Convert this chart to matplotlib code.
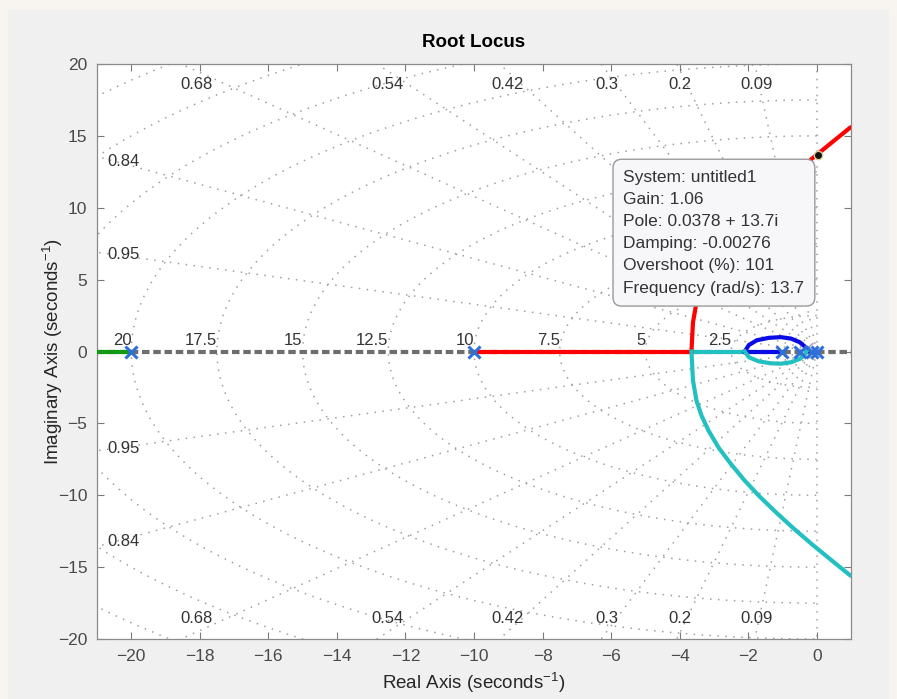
import numpy as np
import matplotlib
matplotlib.use('Agg')
import matplotlib.pyplot as plt
from matplotlib.patches import Rectangle

plt.rcParams['font.family'] = ['Liberation Sans', 'DejaVu Sans']
plt.rcParams['mathtext.default'] = 'regular'

# open-loop poles (x markers)
pole_re = [-20.0, -10.0, -1.0, -0.5, -0.15, 0.0]

# real-axis pieces of the locus
green_re = [-21.0, -20.0]
red_re = [-10.0, -3.65]
cyan_re = [-3.65, -2.1]
blue_re = [-2.1, -1.0]
blue_re2 = [-0.15, 0.0]

# complex branch leaving the real axis at -3.65 (lower half)
branch_re = [-3.655, -3.611, -3.509, -3.363, -3.158, -2.865, -2.515, -2.105,
             -1.667, -1.184, -0.673, -0.132, 0.439, 0.980, 1.10]
branch_im = [0.0, -2.017, -3.409, -4.452, -5.496, -6.678, -7.791, -8.974,
             -10.087, -11.200, -12.313, -13.426, -14.539, -15.583, -15.68]

# small loop near the origin
loop_up_re = [-2.1, -1.98, -1.75, -1.4, -1.05, -0.75, -0.5, -0.35, -0.28]
loop_up_im = [0.0, 0.45, 0.78, 0.95, 1.0, 0.9, 0.65, 0.35, 0.0]
loop_dn_re = [-2.1, -1.98, -1.7, -1.35, -1.05, -0.75, -0.5, -0.36, -0.3]
loop_dn_im = [0.0, -0.4, -0.68, -0.82, -0.85, -0.75, -0.52, -0.25, 0.0]

# data tip
tip_pole = (0.0378, 13.7)
tip_lines = ['System: untitled1', 'Gain: 1.06', 'Pole: 0.0378 + 13.7i',
             'Damping: -0.00276', 'Overshoot (%): 101', 'Frequency (rad/s): 13.7']

# sgrid
zetas = [0.09, 0.2, 0.3, 0.42, 0.54, 0.68, 0.84, 0.95]
top_zetas = [0.09, 0.2, 0.3, 0.42, 0.54, 0.68]
side_zetas = [0.84, 0.95]
wns = [2.5, 5, 7.5, 10, 12.5, 15, 17.5, 20, 22.5, 25, 27.5]
wn_labels = ['2.5', '5', '7.5', '10', '12.5', '15', '17.5', '20']

xlim = (-21, 1)
ylim = (-20, 20)

fig = plt.figure(figsize=(8.97, 6.99), dpi=100, facecolor='#f8f5f1')
fig.add_artist(Rectangle((8 / 897, 0), 881 / 897, 689 / 699, transform=fig.transFigure,
                         facecolor='#f0f0f0', edgecolor='none', zorder=0))
ax = fig.add_axes([97 / 897, 60 / 699, 754 / 897, 575 / 699])
ax.set_facecolor('white')

gkw = dict(color='#a0a0a0', lw=1.1, dashes=(1, 4.2), zorder=1)
for z in zetas:
    s = np.sqrt(1 - z ** 2)
    ax.plot([0, -30 * z], [0, 30 * s], **gkw)
    ax.plot([0, -30 * z], [0, -30 * s], **gkw)
ax.plot([0, 0], [-30, 30], **gkw)
th = np.linspace(np.pi / 2, 3 * np.pi / 2, 300)
for w in wns:
    ax.plot(w * np.cos(th), w * np.sin(th), **gkw)

lab = dict(fontsize=12, color='#333333')
for z in top_zetas:
    s = np.sqrt(1 - z ** 2)
    xx = -19.5 * z / s
    ax.text(xx, 18.6, f'{z:g}', ha='center', va='center', **lab)
    ax.text(xx, -18.6, f'{z:g}', ha='center', va='center', **lab)
for z in side_zetas:
    s = np.sqrt(1 - z ** 2)
    yy = 20.5 * s / z
    ax.text(-20.7, yy, f'{z:g}', ha='left', va='center', **lab)
    ax.text(-20.7, -yy, f'{z:g}', ha='left', va='center', **lab)
for w, t in zip(wns, wn_labels):
    ax.text(-w, 0.25, t, ha='right', va='bottom', **lab)

# locus
ax.plot(list(xlim), [0, 0], color='#6e6e6e', lw=3, dashes=(1.8, 0.9), zorder=2)
lw = 3
ax.plot(green_re, [0, 0], color='#129a12', lw=lw, zorder=3, solid_capstyle='butt')
ax.plot(red_re, [0, 0], color='#ff0000', lw=lw, zorder=3)
ax.plot(cyan_re, [0, 0], color='#22c0c0', lw=lw, zorder=3)
ax.plot(blue_re, [0, 0], color='#0a0ae6', lw=lw, zorder=3)
ax.plot(blue_re2, [0, 0], color='#0a0ae6', lw=lw, zorder=3)
br = np.array(branch_re)
bi = np.array(branch_im)
ax.plot(br, -bi, color='#ff0000', lw=lw, zorder=3, solid_joinstyle='round')
ax.plot(br, bi, color='#22c0c0', lw=lw, zorder=3, solid_joinstyle='round')
ax.plot(loop_up_re, loop_up_im, color='#0a0ae6', lw=lw, zorder=3)
ax.plot(loop_dn_re, loop_dn_im, color='#22c0c0', lw=lw, zorder=3)
ax.plot(pole_re, np.zeros(len(pole_re)), 'x', color='#2f6fd8', ms=8, mew=2.2, zorder=4)

# data tip
ax.plot([tip_pole[0]], [tip_pole[1]], 'o', ms=6, mfc='#111111', mec='#d8cfa0', mew=1, zorder=6)
ax.text(-5.64, 12.65, '\n'.join(tip_lines), ha='left', va='top', fontsize=12.5,
        color='#333333', linespacing=1.6, zorder=7,
        bbox=dict(boxstyle='round,pad=0.6,rounding_size=0.5', fc='#f7f7fa', ec='#9a9a9a', lw=1))

ax.set_xlim(xlim)
ax.set_ylim(ylim)
ax.set_xticks(np.arange(-20, 1, 2))
ax.set_yticks(np.arange(-20, 21, 5))
ax.tick_params(direction='in', top=True, right=True, length=5, width=0.8,
               color='#7a7a7a', labelcolor='#4a4a4a', labelsize=12.5, pad=7)
for sp in ax.spines.values():
    sp.set_color('#8a8a8a')
    sp.set_linewidth(0.9)
ax.set_title('Root Locus', fontsize=13.5, fontweight='bold', color='black', pad=12)
ax.set_xlabel('Real Axis (seconds$^{-1}$)', fontsize=13.5, color='#262626', labelpad=5)
ax.set_ylabel('Imaginary Axis (seconds$^{-1}$)', fontsize=13.5, color='#262626', labelpad=-5.5)

fig.savefig('out.png', dpi=100, facecolor=fig.get_facecolor())
